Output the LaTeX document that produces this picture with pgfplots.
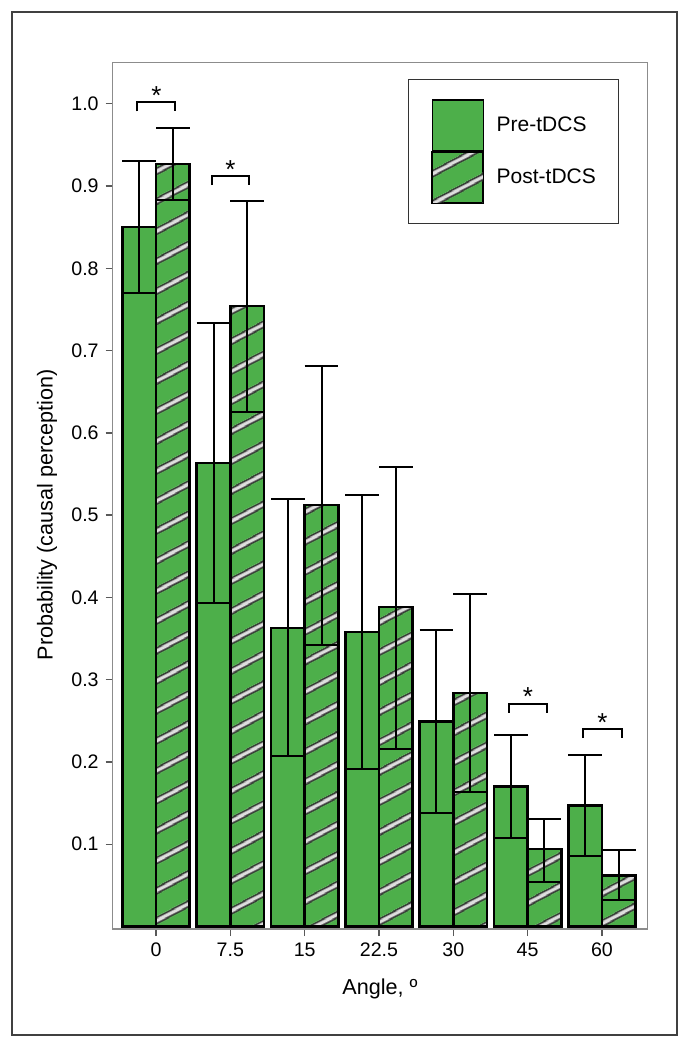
\documentclass[border=0pt]{standalone}
\usepackage{fontspec}
\setmainfont{Liberation Sans}
\usepackage{pgfplots}
\usepackage{pgfplotstable}
\pgfplotsset{compat=1.18}
\usetikzlibrary{patterns.meta}
\definecolor{bargreen}{HTML}{4DAF4A}
\definecolor{stripedark}{HTML}{333333}
\definecolor{stripelight}{HTML}{DEDEDE}
\tikzdeclarepattern{
  name=poststripes,
  type=colored,
  bottom left={(0pt,0pt)},
  top right={(10pt,13.25pt)},
  tile size={(10pt,13.25pt)},
  tile transformation={rotate=28},
  code={
    \pgfsetfillcolor{stripedark}
    \pgfpathrectangle{\pgfpoint{-0.5pt}{4.8pt}}{\pgfpoint{11pt}{3.6pt}}\pgfusepath{fill}
    \pgfsetfillcolor{stripelight}
    \pgfpathrectangle{\pgfpoint{-0.5pt}{5.7pt}}{\pgfpoint{11pt}{1.8pt}}\pgfusepath{fill}
  }
}
\pgfplotstableread{
x y ep em
-0.2265 0.850 0.081 0.080
0.7735 0.563 0.171 0.170
1.7735 0.363 0.157 0.156
2.7735 0.358 0.166 0.167
3.7735 0.249 0.111 0.111
4.7735 0.170 0.063 0.063
5.7735 0.147 0.062 0.061
}\pretable
\pgfplotstableread{
x y ep em
0.2265 0.927 0.043 0.044
1.2265 0.754 0.128 0.129
2.2265 0.512 0.169 0.170
3.2265 0.388 0.171 0.172
4.2265 0.284 0.120 0.120
5.2265 0.094 0.037 0.040
6.2265 0.062 0.031 0.030
}\posttable
\begin{document}
\begin{tikzpicture}
\useasboundingbox (-56.35pt,-59.5pt) rectangle (288.65pt,464.5pt);
\begin{axis}[
  name=ax, at={(0,0)}, anchor=south west,
  scale only axis, width=267.3pt, height=433.2pt,
  xmin=-0.583, xmax=6.61, ymin=-0.003, ymax=1.050,
  xtick={0,1,2,3,4,5,6}, xticklabels={0,7.5,15,22.5,30,45,60},
  ytick={0.1,0.2,0.3,0.4,0.5,0.6,0.7,0.8,0.9,1.0},
  yticklabel style={/pgf/number format/.cd, fixed, fixed zerofill, precision=1},
  /pgf/number format/assume math mode=true,
  tick align=outside, major tick length=3.5pt,
  tick style={black!65, line width=0.7pt},
  axis line style={black!45, line width=0.6pt},
  tick pos=left,
  ticklabel style={font=\fontsize{9.8}{12}\selectfont},
  xlabel={Angle, º}, ylabel={Probability (causal perception)},
  label style={font=\fontsize{10.8}{13}\selectfont},
  xlabel style={at={(axis description cs:0.5,0)}, anchor=base, yshift=-32.65pt},
  ylabel style={at={([xshift=-30pt]axis description cs:0,0.478)}, anchor=base},
  legend style={at={(axis description cs:0.5524,0.9812)}, anchor=north west,
    draw=black!80, line width=0.5pt, fill=white, inner xsep=11.5pt, inner ysep=10pt,
    row sep=0pt, column sep=6.5pt, nodes={inner sep=0pt},
    font=\fontsize{10.5}{12}\selectfont},
  legend cell align=left,
  legend image code/.code={\draw[#1, line width=0.6pt] (-1pt,-12.75pt) rectangle (24.5pt,12.75pt);},
  error bars/y dir=both, error bars/y explicit,
  error bars/error bar style={line width=1pt, black},
  error bars/error mark options={rotate=90, mark size=8.4pt, line width=1pt, black},
]
\addplot[ybar, bar width=0.453, bar shift=0pt, fill=bargreen, draw=black, line width=1.2pt]
  table[x=x, y=y, y error plus=ep, y error minus=em] {\pretable};
\addlegendentry{Pre-tDCS}
\addplot[ybar, bar width=0.453, bar shift=0pt, draw=black, line width=1.2pt, preaction={fill=bargreen}, pattern=poststripes]
  table[x=x, y=y, y error plus=ep, y error minus=em] {\posttable};
\addlegendentry{Post-tDCS}
% significance brackets
\draw[line width=1pt, black] ([yshift=-4.5pt]axis cs:-0.255,1.0015) -- (axis cs:-0.255,1.0015) -- (axis cs:0.26,1.0015) -- ([yshift=-4.5pt]axis cs:0.26,1.0015);
\draw[line width=1pt, black] ([yshift=-4.5pt]axis cs:0.749,0.912) -- (axis cs:0.749,0.912) -- (axis cs:1.255,0.912) -- ([yshift=-4.5pt]axis cs:1.255,0.912);
\draw[line width=1pt, black] ([yshift=-4.5pt]axis cs:4.753,0.271) -- (axis cs:4.753,0.271) -- (axis cs:5.256,0.271) -- ([yshift=-4.5pt]axis cs:5.256,0.271);
\draw[line width=1pt, black] ([yshift=-4.5pt]axis cs:5.748,0.240) -- (axis cs:5.748,0.240) -- (axis cs:6.265,0.240) -- ([yshift=-4.5pt]axis cs:6.265,0.240);
\node[anchor=base, inner sep=0pt, font=\fontsize{13}{13}\selectfont] at ([yshift=-1pt]axis cs:0.005,1.0015) {*};
\node[anchor=base, inner sep=0pt, font=\fontsize{13}{13}\selectfont] at ([yshift=-1pt]axis cs:1.002,0.912) {*};
\node[anchor=base, inner sep=0pt, font=\fontsize{13}{13}\selectfont] at ([yshift=-1pt]axis cs:5.004,0.271) {*};
\node[anchor=base, inner sep=0pt, font=\fontsize{13}{13}\selectfont] at ([yshift=-1pt]axis cs:6.006,0.240) {*};
\end{axis}
\draw[black!75, line width=0.6pt] (-50.35pt,-53pt) rectangle (282.15pt,458.5pt);
\end{tikzpicture}
\end{document}
